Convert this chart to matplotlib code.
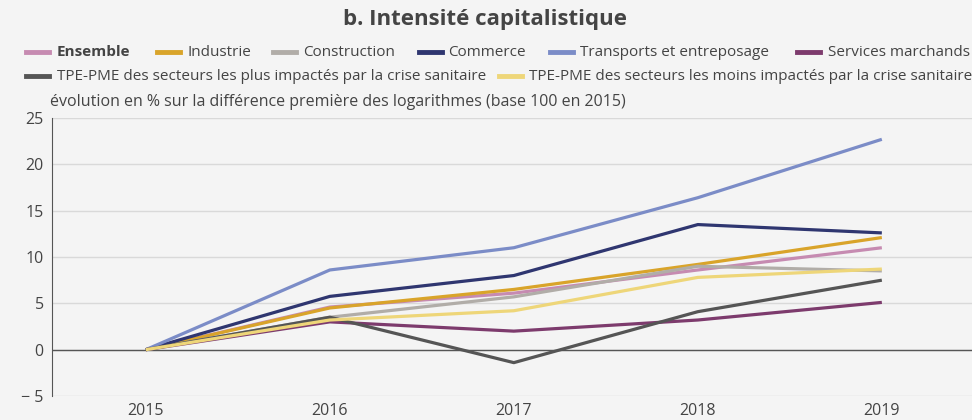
import matplotlib
matplotlib.use("Agg")
import matplotlib.pyplot as plt
from matplotlib.lines import Line2D

plt.rcParams['font.family'] = ['Open Sans', 'DejaVu Sans']

annees = [2015, 2016, 2017, 2018, 2019]
ensemble = [0, 4.6, 6.1, 8.6, 11.0]
industrie = [0, 4.5, 6.5, 9.2, 12.1]
construction = [0, 3.5, 5.7, 9.0, 8.5]
commerce = [0, 5.75, 8.0, 13.5, 12.6]
transports = [0, 8.6, 11.0, 16.4, 22.7]
services = [0, 3.0, 2.0, 3.2, 5.1]
tpe_plus = [0, 3.5, -1.4, 4.1, 7.5]
tpe_moins = [0, 3.2, 4.2, 7.8, 8.7]

series = [
    ("Ensemble", ensemble, "#c68bb1"),
    ("Industrie", industrie, "#d9a42a"),
    ("Construction", construction, "#b1ada8"),
    ("Commerce", commerce, "#2f3670"),
    ("Transports et entreposage", transports, "#7b8cc7"),
    ("Services marchands", services, "#7d3b6d"),
    ("TPE-PME des secteurs les plus impactés par la crise sanitaire", tpe_plus, "#555555"),
    ("TPE-PME des secteurs les moins impactés par la crise sanitaire", tpe_moins, "#eed679"),
]

W, H = 972, 420
bg = "#f4f4f4"
fig = plt.figure(figsize=(W / 100, H / 100), dpi=100, facecolor=bg)
ax = fig.add_axes([52 / W, 1 - 396 / H, 1 - 52 / W, (396 - 118) / H], facecolor=bg)

for name, vals, col in series:
    ax.plot(annees, vals, color=col, lw=2.3, solid_capstyle='butt', zorder=3)

ax.set_xlim(2014.49, 2019.49)
ax.set_ylim(-5, 25)
ax.set_xticks(annees)
ax.set_yticks([-5, 0, 5, 10, 15, 20, 25])
ax.set_yticklabels(["\u2212 5", "0", "5", "10", "15", "20", "25"])
ax.grid(axis='y', color="#d9d9d9", lw=1)
ax.set_axisbelow(True)
ax.axhline(0, color="#555555", lw=1, zorder=2)
for s in ["top", "right", "bottom"]:
    ax.spines[s].set_visible(False)
ax.spines["left"].set_color("#555555")
ax.tick_params(length=0, labelsize=11.5, labelcolor="#444444")
ax.tick_params(axis='x', pad=5)
ax.tick_params(axis='y', pad=6)

fig.text(485 / W, 1 - 20 / H, "b. Intensité capitalistique", ha='center', va='center',
         fontsize=16, fontweight='bold', color="#444444")

# legende
leg_pos = [
    (26, 57, 52), (157, 187, 52), (273, 303, 52), (419, 448, 52),
    (550, 580, 52), (797, 828, 52), (26, 57, 76), (499, 529, 76),
]
for (name, vals, col), (hx, tx, y) in zip(series, leg_pos):
    yy = 1 - y / H
    fig.add_artist(Line2D([hx / W, (hx + 23) / W], [yy, yy], color=col, lw=3.5,
                          transform=fig.transFigure))
    fig.text(tx / W, yy, name, ha='left', va='center', fontsize=11, color="#444444",
             fontweight='bold' if name == "Ensemble" else 'normal')

fig.text(50 / W, 1 - 102 / H,
         "évolution en % sur la différence première des logarithmes (base 100 en 2015)",
         ha='left', va='center', fontsize=11.5, color="#444444")

fig.savefig("out.png", dpi=100, facecolor=bg)
